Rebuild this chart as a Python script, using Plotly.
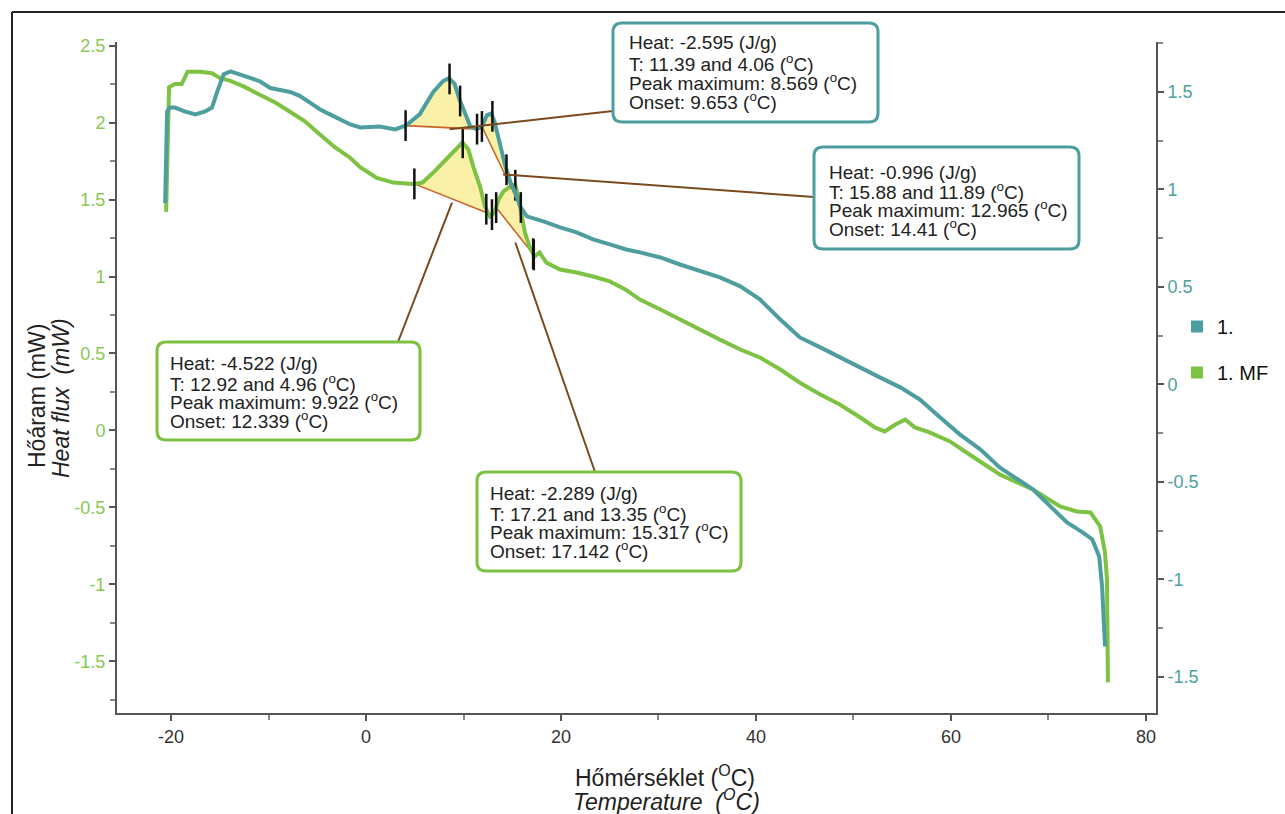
import numpy as np
import plotly.graph_objects as go

# ---------------- data ----------------
# sample "1." (teal, right axis): temperature (°C) and heat flow (mW)
temp_1 = [-20.6, -20.5, -20.4, -20.1, -19.6, -18.6, -17.5, -16.5, -15.8, -15.2,
          -14.6, -13.9, -12.9, -11.9, -10.9, -9.8, -8.8, -7.8, -6.8, -5.7,
          -4.7, -3.7, -2.7, -1.6, -0.6, 1.4, 3.0, 4.1, 5.5, 6.9,
          7.9, 8.5, 9.1, 9.6, 10.2, 10.7, 11.35, 11.9, 12.4, 12.85,
          13.2, 13.7, 14.3, 14.8, 15.3, 15.8, 16.5, 18.2, 19.9, 21.6,
          23.3, 25.0, 26.7, 28.1, 30.2, 32.2, 34.3, 36.3, 38.4, 40.4,
          42.5, 44.5, 46.6, 48.6, 50.7, 52.7, 54.8, 56.8, 58.9, 60.9,
          63.0, 65.0, 68.4, 71.9, 73.5, 74.5, 75.2, 75.5, 75.8]
flow_1 = [0.93, 1.10, 1.40, 1.42, 1.42, 1.40, 1.385, 1.40, 1.42, 1.51,
          1.59, 1.605, 1.59, 1.575, 1.555, 1.52, 1.51, 1.50, 1.48, 1.445,
          1.41, 1.385, 1.36, 1.333, 1.318, 1.323, 1.308, 1.328, 1.385, 1.50,
          1.555, 1.57, 1.54, 1.46, 1.385, 1.323, 1.308, 1.323, 1.38, 1.39,
          1.344, 1.24, 1.118, 1.04, 0.985, 0.913, 0.862, 0.836, 0.805, 0.78,
          0.744, 0.718, 0.692, 0.677, 0.651, 0.615, 0.58, 0.549, 0.503, 0.436,
          0.333, 0.241, 0.19, 0.138, 0.087, 0.036, -0.015, -0.077, -0.169, -0.256,
          -0.333, -0.426, -0.538, -0.708, -0.759, -0.795, -0.882, -1.036, -1.344]

# sample "1. MF" (green, left axis)
temp_2 = [-20.5, -20.4, -20.2, -19.6, -18.9, -18.3, -17.0, -15.8, -15.0, -13.9,
          -12.4, -10.9, -9.3, -7.8, -6.3, -4.7, -3.2, -1.6, -0.6, 1.1,
          2.8, 4.8, 5.8, 6.9, 7.9, 8.9, 9.9, 10.5, 11.0, 11.7,
          12.2, 12.7, 13.2, 13.6, 14.1, 14.8, 15.3, 15.6, 16.0, 16.3,
          16.8, 17.3, 17.8, 18.5, 19.9, 21.6, 23.3, 25.0, 26.6, 28.1,
          30.2, 32.2, 34.3, 36.3, 38.4, 40.4, 42.5, 44.5, 46.6, 48.6,
          50.7, 52.2, 53.2, 54.3, 55.3, 56.3, 57.8, 59.9, 61.9, 65.0,
          68.4, 71.2, 72.9, 74.3, 75.3, 75.8, 76.0, 76.1]
flow_2 = [1.42, 1.82, 2.23, 2.25, 2.25, 2.33, 2.33, 2.32, 2.29, 2.27,
          2.23, 2.18, 2.13, 2.07, 2.01, 1.92, 1.84, 1.77, 1.71, 1.64,
          1.61, 1.60, 1.61, 1.675, 1.74, 1.805, 1.87, 1.825, 1.714, 1.584,
          1.455, 1.39, 1.416, 1.50, 1.552, 1.584, 1.597, 1.52, 1.39, 1.286,
          1.188, 1.13, 1.156, 1.09, 1.045, 1.026, 1.0, 0.968, 0.916, 0.85,
          0.786, 0.72, 0.656, 0.59, 0.526, 0.474, 0.396, 0.31, 0.234, 0.169,
          0.084, 0.02, -0.006, 0.039, 0.071, 0.02, -0.013, -0.071, -0.156, -0.286,
          -0.383, -0.494, -0.526, -0.532, -0.623, -0.792, -0.968, -1.636]

# peak evaluations: heat (J/g), T start, T end, peak maximum, onset
heat_1 = [-2.595, -0.996]
t_start_1 = [4.06, 11.89]
t_end_1 = [11.39, 15.88]
peak_max_1 = [8.569, 12.965]
onset_1 = [9.653, 14.41]

heat_2 = [-4.522, -2.289]
t_start_2 = [4.96, 13.35]
t_end_2 = [12.92, 17.21]
peak_max_2 = [9.922, 15.317]
onset_2 = [12.339, 17.142]

series_names = ["1.", "1. MF"]

x_ticks = [-20, 0, 20, 40, 60, 80]
x_tick_labels = ["-20", "0", "20", "40", "60", "80"]
yl_ticks = [-1.5, -1, -0.5, 0, 0.5, 1, 1.5, 2, 2.5]
yl_tick_labels = ["-1.5", "-1", "-0.5", "0", "0.5", "1", "1.5", "2", "2.5"]
yr_ticks = [-1.5, -1, -0.5, 0, 0.5, 1, 1.5]
yr_tick_labels = ["-1.5", "-1", "-0.5", "0", "0.5", "1", "1.5"]

# ---------------- styling / layout geometry ----------------
W, H = 1285, 814
PL, PR, PT, PB = 117, 1156, 42, 713
XR = [-25.54, 81.03]
YL = [-1.835, 2.523]
YR = [-1.685, 1.756]

TEAL = "#4E9E9F"
GREEN = "#7DC243"
TEAL_TXT = "#4E9FA0"
GREEN_TXT = "#88C853"
FILL = "#FAF0A8"
BASE = "#C8642A"
LEADER = "#7A4A1E"
AXC = "#555555"


def fx(px):
    return (px - PL) / (PR - PL)


def fy(py):
    return (PB - py) / (PB - PT)


def dx(px):
    return XR[0] + fx(px) * (XR[1] - XR[0])


def dy(py, rng):
    return rng[0] + fy(py) * (rng[1] - rng[0])


fig = go.Figure()


def add_peaks(t, f, starts, ends, yaxis):
    t = np.asarray(t)
    f = np.asarray(f)
    for s, e in zip(starts, ends):
        m = (t > s) & (t < e)
        xs = [s] + list(t[m]) + [e]
        ys = [float(np.interp(s, t, f))] + list(f[m]) + [float(np.interp(e, t, f))]
        fig.add_trace(go.Scatter(x=xs + [s], y=ys + [ys[0]], mode="lines",
                                 fill="toself", fillcolor=FILL,
                                 line=dict(width=0, color=FILL),
                                 yaxis=yaxis, showlegend=False, hoverinfo="skip"))
        fig.add_trace(go.Scatter(x=[s, e], y=[ys[0], ys[-1]], mode="lines",
                                 line=dict(width=1.6, color=BASE),
                                 yaxis=yaxis, showlegend=False, hoverinfo="skip"))


add_peaks(temp_1, flow_1, t_start_1, t_end_1, "y2")
add_peaks(temp_2, flow_2, t_start_2, t_end_2, "y")

fig.add_trace(go.Scatter(x=temp_1, y=flow_1, mode="lines", yaxis="y2",
                         line=dict(color=TEAL, width=4), showlegend=False))
fig.add_trace(go.Scatter(x=temp_2, y=flow_2, mode="lines", yaxis="y",
                         line=dict(color=GREEN, width=4), showlegend=False))

# black evaluation markers
mk1 = t_start_1 + t_end_1 + peak_max_1 + onset_1
mk2 = t_start_2 + t_end_2 + peak_max_2 + onset_2
fig.add_trace(go.Scatter(x=mk1, y=np.interp(mk1, temp_1, flow_1), mode="markers",
                         yaxis="y2", showlegend=False, hoverinfo="skip",
                         marker=dict(symbol="line-ns", size=22,
                                     line=dict(width=2.5, color="#111111"))))
fig.add_trace(go.Scatter(x=mk2, y=np.interp(mk2, temp_2, flow_2), mode="markers",
                         yaxis="y", showlegend=False, hoverinfo="skip",
                         marker=dict(symbol="line-ns", size=22,
                                     line=dict(width=2.5, color="#111111"))))

# legend entries
for name, col, grp in [(series_names[0], TEAL, "a"), (series_names[1], GREEN, "b")]:
    fig.add_trace(go.Scatter(x=[None], y=[None], mode="markers", name=name,
                             legendgroup=grp,
                             marker=dict(symbol="square", size=12, color=col)))

shapes = []
annotations = []

boxes = [
    dict(box=(613, 23, 878, 122), tx=627, ly=[43, 63, 82, 101], col=TEAL,
         lead=(613, 111), peak=(peak_max_1[0], 1.308), yref="y2",
         heat=heat_1[0], ts=t_start_1[0], te=t_end_1[0], pm=peak_max_1[0], on=onset_1[0]),
    dict(box=(814, 147, 1079, 249), tx=827, ly=[172, 191, 209, 228], col=TEAL,
         lead=(814, 197), peak=(onset_1[1] - 0.35, 1.077), yref="y2",
         heat=heat_1[1], ts=t_start_1[1], te=t_end_1[1], pm=peak_max_1[1], on=onset_1[1]),
    dict(box=(157, 342, 420, 440), tx=168, ly=[363, 383, 401, 420], col=GREEN,
         lead=(398, 342), peak=(peak_max_2[0] - 1.1, 1.48), yref="y",
         heat=heat_2[0], ts=t_start_2[0], te=t_end_2[0], pm=peak_max_2[0], on=onset_2[0]),
    dict(box=(477, 472, 741, 571), tx=488, ly=[493, 513, 531, 550], col=GREEN,
         lead=(595, 472), peak=(peak_max_2[1], 1.221), yref="y",
         heat=heat_2[1], ts=t_start_2[1], te=t_end_2[1], pm=peak_max_2[1], on=onset_2[1]),
]

for b in boxes:
    rng = YR if b["yref"] == "y2" else YL
    shapes.append(dict(type="line", xref="x", yref=b["yref"],
                       x0=dx(b["lead"][0]), y0=dy(b["lead"][1], rng),
                       x1=b["peak"][0], y1=b["peak"][1],
                       line=dict(color=LEADER, width=2), layer="above"))

for b in boxes:
    x0, y0, x1, y1 = b["box"]
    r = 9
    path = (f"M {fx(x0 + r)},{fy(y0)} L {fx(x1 - r)},{fy(y0)} "
            f"Q {fx(x1)},{fy(y0)} {fx(x1)},{fy(y0 + r)} L {fx(x1)},{fy(y1 - r)} "
            f"Q {fx(x1)},{fy(y1)} {fx(x1 - r)},{fy(y1)} L {fx(x0 + r)},{fy(y1)} "
            f"Q {fx(x0)},{fy(y1)} {fx(x0)},{fy(y1 - r)} L {fx(x0)},{fy(y0 + r)} "
            f"Q {fx(x0)},{fy(y0)} {fx(x0 + r)},{fy(y0)} Z")
    shapes.append(dict(type="path", xref="paper", yref="paper", path=path,
                       fillcolor="white", line=dict(color=b["col"], width=3),
                       layer="above"))
    lines = [f"Heat: {b['heat']} (J/g)",
             f"T: {b['te']} and {b['ts']} (<sup>o</sup>C)",
             f"Peak maximum: {b['pm']} (<sup>o</sup>C)",
             f"Onset: {b['on']} (<sup>o</sup>C)"]
    for txt, ly in zip(lines, b["ly"]):
        annotations.append(dict(text=txt, xref="paper", yref="paper",
                                x=fx(b["tx"]), y=fy(ly), xanchor="left", yanchor="middle",
                                showarrow=False,
                                font=dict(family="Liberation Sans, Arial", size=19,
                                          color="#222222")))

# axis titles
TF = "Liberation Sans, Arial"
annotations += [
    dict(text="Hőáram (mW)", xref="paper", yref="paper", x=fx(37), y=fy(396),
         textangle=-90, showarrow=False, xanchor="center", yanchor="middle",
         font=dict(family=TF, size=23, color="#222222")),
    dict(text="<i>Heat flux  (mW)</i>", xref="paper", yref="paper", x=fx(61), y=fy(398),
         textangle=-90, showarrow=False, xanchor="center", yanchor="middle",
         font=dict(family=TF, size=23, color="#222222")),
    dict(text="Hőmérséklet (<sup>O</sup>C)", xref="paper", yref="paper", x=fx(665), y=fy(776),
         showarrow=False, xanchor="center", yanchor="middle",
         font=dict(family=TF, size=23, color="#222222")),
    dict(text="<i>Temperature  (<sup>O</sup>C)</i>", xref="paper", yref="paper", x=fx(666),
         y=fy(800), showarrow=False, xanchor="center", yanchor="middle",
         font=dict(family=TF, size=23, color="#222222")),
]

# outer frame of the figure image
shapes += [
    dict(type="line", xref="paper", yref="paper", x0=fx(12), x1=fx(1285), y0=fy(12), y1=fy(12),
         line=dict(color="#222222", width=2), layer="above"),
    dict(type="line", xref="paper", yref="paper", x0=fx(12), x1=fx(12), y0=fy(12), y1=fy(814),
         line=dict(color="#222222", width=2), layer="above"),
]

TICKF = "Liberation Sans Narrow, Arial Narrow, Liberation Sans, Arial"

fig.update_layout(
    width=W, height=H,
    margin=dict(l=PL, r=W - PR, t=PT, b=H - PB, autoexpand=False),
    plot_bgcolor="white", paper_bgcolor="white",
    shapes=shapes, annotations=annotations,
    showlegend=True,
    legend=dict(x=fx(1177), y=fy(307), xanchor="left", yanchor="top",
                font=dict(family="Liberation Sans, Arial", size=20, color="#111111"),
                tracegroupgap=17, traceorder="grouped", bgcolor="rgba(0,0,0,0)"),
    xaxis=dict(range=XR, showline=True, linecolor=AXC, linewidth=2,
               ticks="outside", ticklen=6, tickwidth=1.5, tickcolor=AXC,
               tickmode="array", tickvals=x_ticks, ticktext=x_tick_labels,
               minor=dict(tickmode="linear", tick0=0, dtick=10, ticks="outside",
                          ticklen=5, tickcolor="#888888", showgrid=False),
               showgrid=False, zeroline=False,
               tickfont=dict(family=TICKF, size=18, color="#333333")),
    yaxis=dict(range=YL, showline=True, linecolor=AXC, linewidth=2,
               ticks="outside", ticklen=6, tickwidth=1.5, tickcolor=AXC,
               tickmode="array", tickvals=yl_ticks, ticktext=yl_tick_labels,
               minor=dict(tickmode="linear", tick0=0, dtick=0.25, ticks="outside",
                          ticklen=5, tickcolor="#888888", showgrid=False),
               showgrid=False, zeroline=False,
               tickfont=dict(family=TICKF, size=18, color=GREEN_TXT)),
    yaxis2=dict(range=YR, overlaying="y", side="right", showline=True, linecolor=AXC,
                linewidth=2, ticks="outside", ticklen=6, tickwidth=1.5, tickcolor=AXC,
                tickmode="array", tickvals=yr_ticks, ticktext=yr_tick_labels,
                minor=dict(tickmode="linear", tick0=0, dtick=0.25, ticks="outside",
                           ticklen=5, tickcolor="#888888", showgrid=False),
                showgrid=False, zeroline=False,
                tickfont=dict(family=TICKF, size=18, color=TEAL_TXT)),
)

fig.write_html("out.html", config={"displayModeBar": False},
               post_script="document.body.style.margin='0';document.body.style.padding='0';")
